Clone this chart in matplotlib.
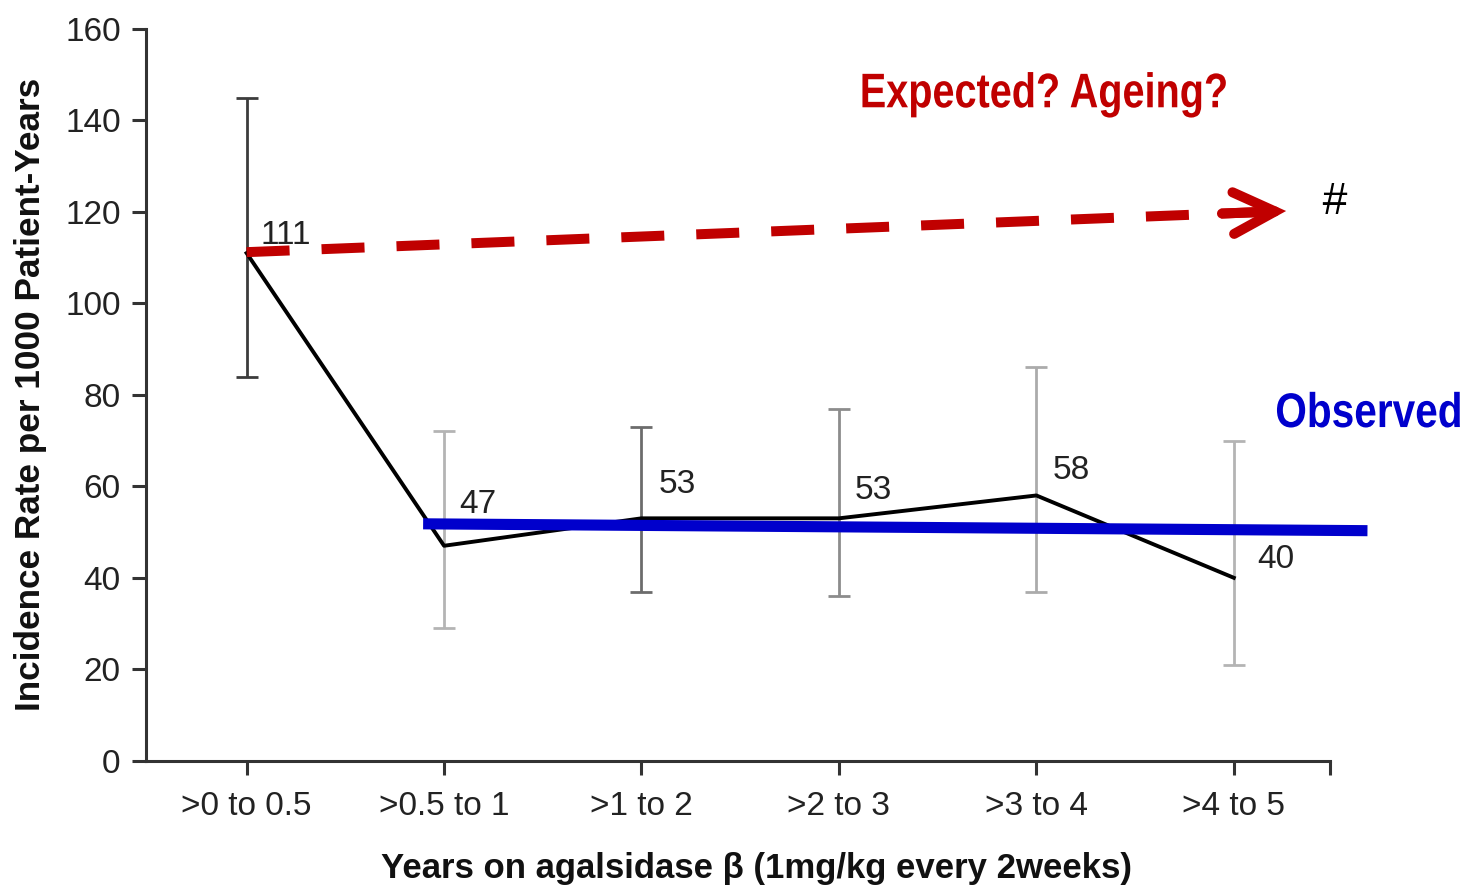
import numpy as np
import matplotlib
matplotlib.use("Agg")
import matplotlib.pyplot as plt
from matplotlib.ticker import FixedLocator
from matplotlib.transforms import Affine2D
from matplotlib.patheffects import AbstractPathEffect

# ---- data -------------------------------------------------------------
periods = [">0 to 0.5", ">0.5 to 1", ">1 to 2", ">2 to 3", ">3 to 4", ">4 to 5"]
incidence = [111, 47, 53, 53, 58, 40]
ci_lower = [84, 29, 37, 36, 37, 21]
ci_upper = [145, 72, 73, 77, 86, 70]
y_ticks = [0, 20, 40, 60, 80, 100, 120, 140, 160]

# expected trend (start -> arrow tip) and observed trend line
expected_x = [0.0, 5.265]
expected_y = [111.2, 120.2]
observed_x = [0.894, 5.677]
observed_y = [51.8, 50.3]

# ---- styles -----------------------------------------------------------
RED = "#C00000"
BLUE = "#0000CC"
AXIS = "#333333"
bar_colors = ["#3c3c3c", "#b4b4b4", "#6c6c6c", "#8c8c8c", "#ababab", "#b4b4b4"]
label_offsets = [(28, 13), (24, 30), (26, 24), (25, 20), (25, 18), (30, 13)]

plt.rcParams["font.family"] = ["Liberation Sans", "DejaVu Sans"]


class Condensed(AbstractPathEffect):
    """Draw text glyphs squeezed horizontally (narrow face look),
    keeping either the left or the right end of the string fixed."""

    def __init__(self, sx, keep="left"):
        super().__init__()
        self._sx = sx
        self._keep = keep

    def draw_path(self, renderer, gc, tpath, affine, rgbFace=None):
        x0 = 0.0
        if self._keep == "right":
            x0 = tpath.get_extents().x1
        squeeze = (Affine2D().translate(-x0, 0).scale(self._sx, 1.0)
                   .translate(x0, 0))
        renderer.draw_path(gc, tpath, squeeze + affine, rgbFace)


fig = plt.figure(figsize=(14.66, 8.89), dpi=100)
ax = fig.add_axes([0.0994, 0.1443, 0.8078, 0.8231])

xs = np.arange(len(periods))

# confidence intervals
for i in range(len(periods)):
    lo = incidence[i] - ci_lower[i]
    hi = ci_upper[i] - incidence[i]
    ax.errorbar(xs[i], incidence[i], yerr=[[lo], [hi]], fmt="none",
                ecolor=bar_colors[i], elinewidth=2.0, capsize=8,
                capthick=2.0, zorder=2)

# observed incidence
ax.plot(xs, incidence, color="black", lw=2.8, zorder=3)

# value labels
for i, v in enumerate(incidence):
    ax.annotate(str(v), xy=(xs[i], v), xytext=label_offsets[i],
                textcoords="offset points", ha="center", va="center",
                fontsize=24, color="#222222", zorder=2.5)

# observed trend (flat)
ax.plot(observed_x, observed_y, color=BLUE, lw=8, solid_capstyle="butt",
        clip_on=False, zorder=4)

# expected trend: dashed line ending with an open arrow head
ax.plot(expected_x, expected_y, color=RED, lw=7.2,
        linestyle=(0, (4.3, 3.2)), dash_capstyle="butt", zorder=5)
shaft_x = 4.94
shaft_y = float(np.interp(shaft_x, expected_x, expected_y))
ax.annotate("", xy=(expected_x[1], expected_y[1]), xytext=(shaft_x, shaft_y),
            arrowprops=dict(arrowstyle="->,head_length=1.5,head_width=0.75",
                            color=RED, lw=7.2, shrinkA=0, shrinkB=0,
                            mutation_scale=20, capstyle="round",
                            joinstyle="miter"),
            zorder=5)

# annotations
ax.text(0.603, 0.893, "Expected? Ageing?", transform=ax.transAxes,
        fontweight="bold", fontsize=35, color=RED,
        ha="left", va="baseline", path_effects=[Condensed(0.815)])
ax.text(1.1123, 0.456, "Observed", transform=ax.transAxes,
        fontweight="bold", fontsize=35, color=BLUE,
        ha="right", va="baseline", clip_on=False,
        path_effects=[Condensed(0.835, keep="right")])
ax.text(1.0033, 0.7635, "#", transform=ax.transAxes, fontsize=32,
        style="italic", color="black", ha="center", va="center",
        clip_on=False)

# axes
ax.set_xlim(-0.511, 5.487)
ax.set_ylim(0, 160)
ax.set_xticks(xs)
ax.set_xticklabels(periods)
ax.set_yticks(y_ticks)
ax.xaxis.set_minor_locator(FixedLocator([5.487]))

for side in ("top", "right"):
    ax.spines[side].set_visible(False)
for side in ("left", "bottom"):
    ax.spines[side].set_color(AXIS)
    ax.spines[side].set_linewidth(2.2)

ax.tick_params(axis="both", which="both", direction="out", length=10,
               width=2.2, color=AXIS, labelsize=24, labelcolor="#222222")
ax.tick_params(axis="x", which="major", pad=12)
ax.tick_params(axis="y", pad=8)

ax.set_ylabel("Incidence Rate per 1000 Patient-Years", fontsize=25.3,
              fontweight="bold", color="#111111")
ax.yaxis.set_label_coords(-0.0977, 0.501)
ax.yaxis.label.set_va("center")

ax.set_xlabel("Years on agalsidase \u03b2 (1mg/kg every 2weeks)", fontsize=25,
              fontweight="bold", color="#111111")
ax.xaxis.set_label_coords(0.516, -0.1599)
ax.xaxis.label.set_va("baseline")

fig.savefig("out.png", dpi=100)
